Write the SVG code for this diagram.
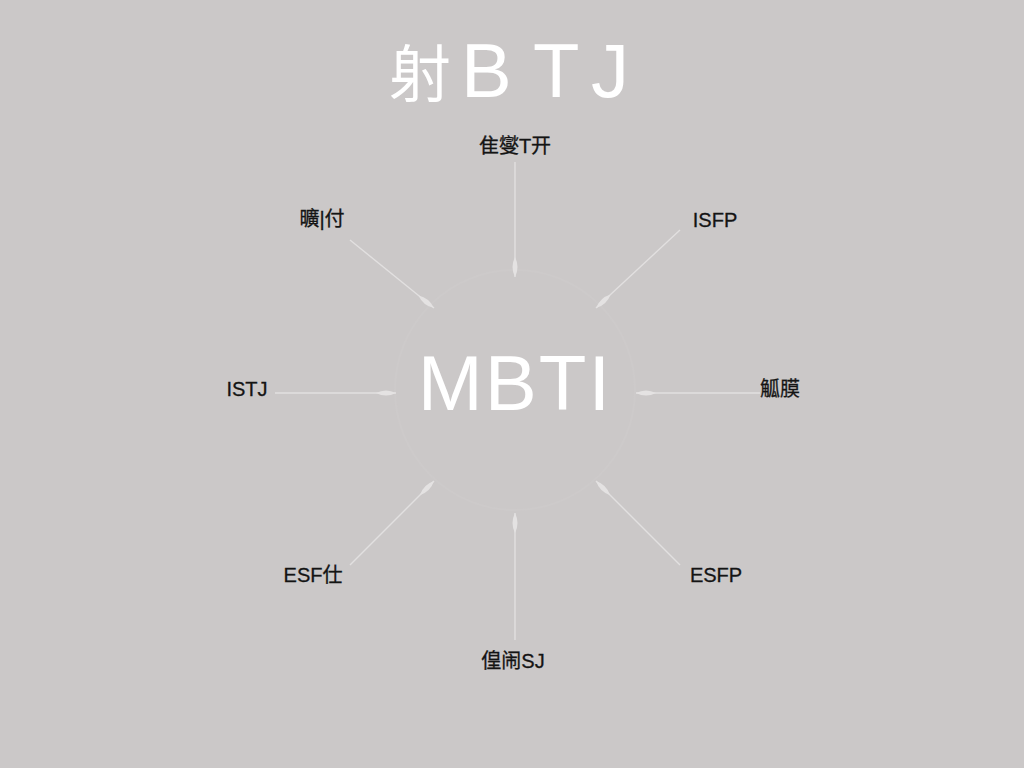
<svg xmlns="http://www.w3.org/2000/svg" width="1024" height="768" viewBox="0 0 1024 768">
<defs>
<style>
.lbl{font-family:"Liberation Sans","Noto Sans CJK SC",sans-serif;font-size:20px;fill:#141414;text-anchor:middle;stroke:#141414;stroke-width:0.3}
.big{font-family:"Liberation Sans","Noto Sans CJK SC",sans-serif;fill:#ffffff}
.conn{stroke:#e2e0e0;stroke-width:1.4;fill:none;marker-end:url(#leaf)}
</style>
<marker id="leaf" viewBox="0 0 20 8" refX="20" refY="4" markerWidth="20" markerHeight="8" markerUnits="userSpaceOnUse" orient="auto">
<path d="M0 4 Q10 -1 20 4 Q10 9 0 4 Z" fill="#e4e2e2"/>
</marker>
</defs>
<rect width="1024" height="768" fill="#cbc8c8"/>
<text class="big" y="97" font-size="76"><tspan x="389" font-size="62">射</tspan><tspan x="461">B</tspan><tspan x="533">T</tspan><tspan x="591">J</tspan></text>
<g id="center">
<circle cx="515" cy="390" r="120" fill="none" stroke="#cdcaca" stroke-width="2"/>
<text class="big" x="515" y="410" font-size="78" letter-spacing="2" text-anchor="middle">MBTI</text>
</g>
<g id="connectors">
<line class="conn" x1="515" y1="162" x2="515" y2="277"/>
<line class="conn" x1="350" y1="240" x2="434" y2="308"/>
<line class="conn" x1="680" y1="230" x2="596" y2="308"/>
<line class="conn" x1="275" y1="393" x2="396" y2="393"/>
<line class="conn" x1="760" y1="393" x2="636" y2="393"/>
<line class="conn" x1="350" y1="565" x2="434" y2="481"/>
<line class="conn" x1="680" y1="565" x2="596" y2="481"/>
<line class="conn" x1="515" y1="640" x2="515" y2="513"/>
</g>
<g id="n-top"><text class="lbl" x="515" y="153">隹燮T开</text></g>
<g id="n-ul"><text class="lbl" x="322" y="226">曠|付</text></g>
<g id="n-ur"><text class="lbl" x="715" y="227">ISFP</text></g>
<g id="n-l"><text class="lbl" x="247" y="396">ISTJ</text></g>
<g id="n-r"><text class="lbl" x="780" y="396">觚膜</text></g>
<g id="n-ll"><text class="lbl" x="313" y="582">ESF仕</text></g>
<g id="n-lr"><text class="lbl" x="716" y="582">ESFP</text></g>
<g id="n-bottom"><text class="lbl" x="513" y="668">偟闹SJ</text></g>
</svg>
